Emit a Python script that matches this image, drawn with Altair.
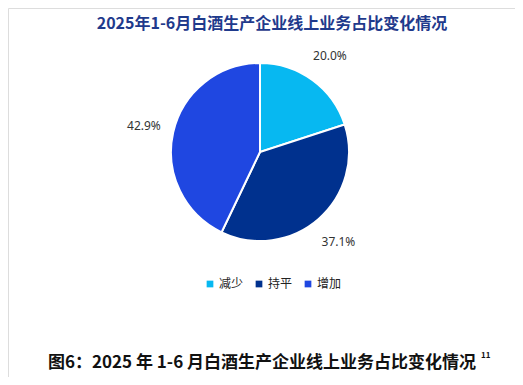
import altair as alt
import pandas as pd

categories = ["减少", "持平", "增加"]
values = [20.0, 37.1, 42.9]
labels = ["20.0%", "37.1%", "42.9%"]
colors = ["#07B8F1", "#00318E", "#1F47E1"]

title_text = "2025年1-6月白酒生产企业线上业务占比变化情况"
caption_text = "图6：2025 年 1-6 月白酒生产企业线上业务占比变化情况"
footnote = "11"

df = pd.DataFrame({"cat": categories, "val": values, "label": labels, "ord": [0, 1, 2]})

base = alt.Chart(df).encode(
    theta=alt.Theta("val:Q", stack=True),
    order=alt.Order("ord:Q"),
)

pie = base.mark_arc(outerRadius=89, stroke="white", strokeWidth=2).encode(
    x=alt.value(252), y=alt.value(144),
    color=alt.Color("cat:N", scale=alt.Scale(domain=categories, range=colors),
                    sort=categories,
                    legend=alt.Legend(orient="none", legendX=196, legendY=270,
                                      direction="horizontal", title=None,
                                      symbolType="square", symbolSize=45,
                                      labelFontSize=12, labelFont="Noto Sans CJK SC",
                                      labelColor="#222222", columnPadding=9,
                                      labelOffset=3, symbolStrokeWidth=0)),
)

text = base.mark_text(radius=119, fontSize=12, font="Noto Sans", color="#333333").encode(
    x=alt.value(252), y=alt.value(144),
    text="label:N",
)

cap = alt.Chart(pd.DataFrame({"t": [caption_text]})).mark_text(
    fontSize=17, fontWeight="bold", font="Noto Sans CJK SC", color="#111111", align="center"
).encode(x=alt.value(254), y=alt.value(355), text="t:N")

fn = alt.Chart(pd.DataFrame({"t": [footnote]})).mark_text(
    fontSize=8, fontWeight="bold", font="Noto Sans CJK SC", color="#111111", align="left"
).encode(x=alt.value(473), y=alt.value(348), text="t:N")

ttl = alt.Chart(pd.DataFrame({"t": [title_text]})).mark_text(
    fontSize=16, fontWeight="bold", font="Noto Sans CJK SC", color="#1F3A8C", align="center"
).encode(x=alt.value(264), y=alt.value(16), text="t:N")

chart = alt.layer(pie, text, cap, fn, ttl).properties(
    width=507, height=369,
    autosize=alt.AutoSizeParams(type="none"),
    padding=0,
).configure_view(stroke=None).configure(background="white")

chart.save("out.html", embed_options={"renderer": "svg", "actions": False})
